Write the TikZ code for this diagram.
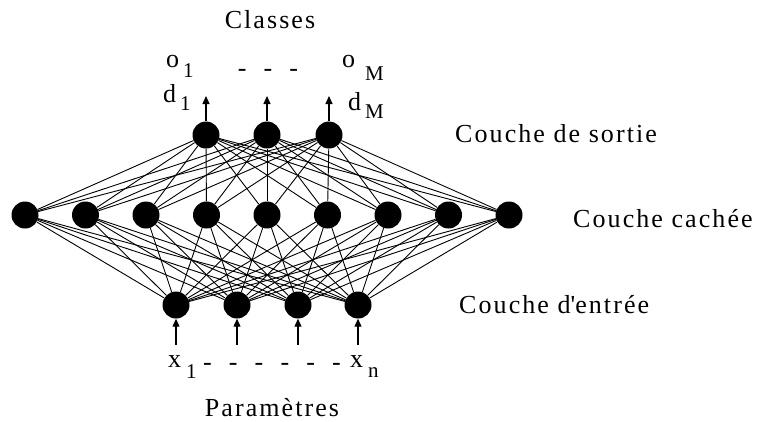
\documentclass[tikz,border=0pt]{standalone}
\usepackage{fontspec}
\setmainfont{Liberation Serif}[LetterSpace=8]
\usetikzlibrary{arrows.meta}
\begin{document}
\begin{tikzpicture}[x=1pt,y=-1pt,
  neuron/.style={circle,fill=black,minimum size=27pt,inner sep=0pt},
  link/.style={line width=0.9pt},
  signal/.style={line width=1.2pt,-{Triangle[length=8pt,width=7pt]}},
  lbl/.style={font=\fontsize{26}{29}\selectfont,inner sep=0pt,anchor=base west},
  sub/.style={font=\fontsize{21}{24}\selectfont,inner sep=0pt,anchor=base west}]
\useasboundingbox (0,0) rectangle (761,421);

% output layer
\foreach \i/\x in {1/206,2/267,3/329}
  \node[neuron] (o\i) at (\x,135) {};
% hidden layer
\foreach \i in {1,...,9}
  \node[neuron] (h\i) at ({25+60.5*(\i-1)},215) {};
% input layer
\foreach \i/\x in {1/176,2/237,3/298,4/358}
  \node[neuron] (x\i) at (\x,305) {};

% full connections
\foreach \i in {1,...,9}{
  \foreach \j in {1,2,3} \draw[link] (h\i) -- (o\j);
  \foreach \j in {1,...,4} \draw[link] (x\j) -- (h\i);
}

% output signals
\foreach \i/\x in {1/206,2/267,3/329}{
  \coordinate (t\i) at (\x,96);
  \draw[signal] (o\i) -- (t\i);
}
% input signals
\foreach \i/\x in {1/176,2/237,3/298,4/358}{
  \coordinate (s\i) at (\x,345);
  \draw[signal] (s\i) -- (x\i);
}

% labels
\node[lbl,anchor=base] (classes) at (270,28) {Classes};
\node[lbl] (oone) at (166,67) {o};
\node[sub] (ooneidx) at (183,77) {1};
\node[lbl,anchor=base] (odots) at (268,76) {-\ \ -\ \ -};
\node[lbl] (oM) at (342,67) {o};
\node[sub] (oMidx) at (365,80) {M};
\node[lbl] (done) at (163,102) {d};
\node[sub] (doneidx) at (180,110) {1};
\node[lbl] (dM) at (348,110) {d};
\node[sub] (dMidx) at (365,118) {M};

\node[lbl] (outlbl) at (455,142) {Couche de sortie};
\node[lbl] (hidlbl) at (573,227) {Couche cachée};
\node[lbl] (inlbl) at (459,313) {Couche d\textquotesingle entrée};

\node[lbl] (xone) at (168,367) {x};
\node[sub] (xoneidx) at (186,378) {1};
\node[lbl,anchor=base] (xdots) at (272,370) {-\ \ -\ \ -\ \ -\ \ -\ \ -};
\node[lbl] (xn) at (350,367) {x};
\node[sub] (xnidx) at (368,377) {n};
\node[lbl,anchor=base] (params) at (272,416) {Paramètres};
\end{tikzpicture}
\end{document}
